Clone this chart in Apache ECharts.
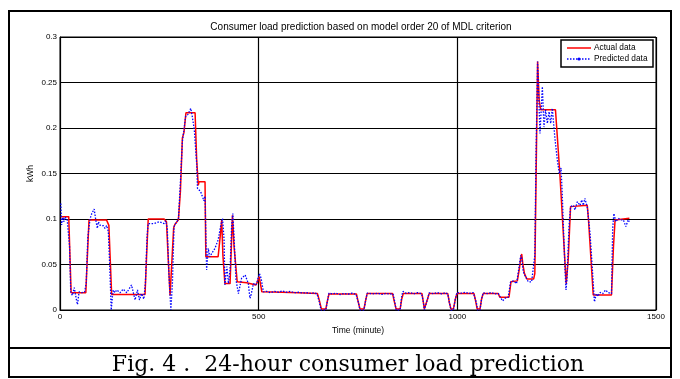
<!DOCTYPE html>
<html>
<head>
<meta charset="utf-8">
<script src="https://cdn.jsdelivr.net/npm/echarts@6/dist/echarts.min.js"></script>
<style>
html,body{margin:0;padding:0;background:#fff;}
#chart{width:680px;height:379px;}
</style>
</head>
<body>
<div id="chart"></div>
<script>
// ---- data ----
var xTicks = [0, 500, 1000, 1500];
var yTicks = [0, 0.05, 0.1, 0.15, 0.2, 0.25, 0.3];
var seriesNames = ['Actual data', 'Predicted data'];

var actualTime = [2,22,25,28,65,68,73,117,123,126,130,214,218,222,262,268,272,277,282,286,289,298,303,308,312,317,340,344,348,350,365,367,398,403,407,410,415,428,434,438,446,470,493,496,501,504,508,
  560,600,648,653,658,669,673,677,746,750,755,765,769,773,837,841,846,856,860,864,911,914,917,921,925,929,976,980,984,990,995,999,1042,1046,1050,1057,1061,1065,
  1103,1107,1130,1135,1151,1156,1160,1162,1165,1169,1175,1192,1195,1202,1206,1210,1247,1258,1274,1279,1285,1327,1330,1342,1388,1393,1397,1433];
var actualKWh = [0.1026,0.1026,0.06,0.019,0.019,0.05,0.099,0.099,0.093,0.06,0.017,0.017,0.06,0.1,0.1,0.097,0.06,0.016,0.016,0.09,0.094,0.099,0.13,0.189,0.195,0.2168,0.2168,0.165,0.137,0.141,0.141,0.0586,0.0586,0.08,0.099,0.06,0.029,0.029,0.104,0.07,0.031,0.030,0.0275,0.03,0.0366,0.03,0.020,
  0.0195,0.019,0.018,0.01,0.001,0.001,0.01,0.0176,0.0176,0.01,0.001,0.001,0.01,0.018,0.018,0.01,0.001,0.001,0.012,0.018,0.018,0.01,0.001,0.001,0.012,0.018,0.018,0.008,0.001,0.001,0.012,0.018,0.018,0.01,0.001,0.001,0.012,0.018,
  0.018,0.014,0.014,0.031,0.032,0.045,0.058,0.0615,0.05,0.04,0.034,0.034,0.04,0.273,0.23,0.22,0.22,0.15,0.029,0.055,0.1136,0.115,0.1,0.0165,0.0165,0.07,0.099,0.1007];

var predTime = [2,4,7,10,12,18,21,24,27,31,36,41,44,48,55,62,66,70,75.5,80,86,90,94,96.5,101,105,109,113,117.5,121.6,125,129,132,134,138,143,151,159,168,180,189,195,200,205,211,215,219,222,226,236,250,262,266,270,274,279,283,287,291,298,303,308,312,316,322,329,333,338,344,346,350,354,360,362,365,369,373,377,382,390,398,404,409,413,415,420,424,428,432,435,438,443,449,457,466,474,478,480,487,493,496,502,506,512,
  520,530,540,550,560,570,580,590,600,610,620,630,640,647,652,657,669,673,677,685,695,705,715,725,735,745,750,755,765,769,773,782,792,800,810,820,830,838,842,846,856,860,863,870,880,890,900,910,914,917,921,925,929,940,950,960,970,976,980,984,990,995,999,1010,1020,1030,1040,1044,1048,1051,1057,1061,1065,1075,1085,1095,
  1103,1107,1114,1120,1128,1134,1141,1149,1156,1159.5,1162,1166,1170,1174.5,1178.6,1187,1191,1195,1198,1202,1208,1214,1218,1222,1226.5,1231,1235,1239,1241.5,1246,1251.6,1256.7,1261,1264,1267,1271,1273.5,1276,1281,1285,1292,1296,1302,1309,1313,1317,1321,1327,1334,1340,1345,1350,1354,1359,1366,1373,1380,1388,1391,1394,1399,1405,1411,1418,1424,1430,1433];
var predKWh = [0.117,0.0934,0.102,0.097,0.102,0.1,0.099,0.07,0.02,0.016,0.0245,0.012,0.006,0.02,0.019,0.02,0.03,0.08,0.1,0.106,0.111,0.099,0.0897,0.097,0.093,0.095,0.0926,0.0897,0.093,0.086,0.05,0.0,0.015,0.022,0.019,0.022,0.019,0.023,0.019,0.0275,0.011,0.022,0.011,0.018,0.012,0.03,0.08,0.095,0.097,0.095,0.097,0.095,0.098,0.09,0.04,0.0,0.03,0.0916,0.095,0.0996,0.14,0.185,0.198,0.2125,0.215,0.2216,0.2125,0.198,0.161,0.1337,0.135,0.13,0.1227,0.12,0.125,0.044,0.0678,0.0586,0.0623,0.0678,0.077,0.0916,0.1007,0.077,0.0275,0.0476,0.029,0.044,0.0934,0.106,0.08,0.033,0.018,0.0348,0.0385,0.029,0.0128,0.015,0.029,0.0275,0.031,0.04,0.035,0.02,
  0.0205,0.019,0.0205,0.0195,0.021,0.0195,0.0205,0.019,0.0195,0.0188,0.019,0.0182,0.019,0.0175,0.01,0.0,0.0,0.01,0.0185,0.0178,0.0185,0.017,0.0182,0.0175,0.0185,0.0172,0.01,0.0,0.0,0.01,0.0185,0.018,0.0178,0.0185,0.0172,0.0182,0.0175,0.018,0.01,0.0,0.0,0.015,0.0205,0.0185,0.0192,0.0178,0.019,0.0178,0.01,0.0,0.0,0.012,0.0188,0.018,0.0192,0.0178,0.019,0.0175,0.008,0.0,0.0,0.012,0.0192,0.0185,0.0195,0.0182,0.019,0.0175,0.008,0.0,0.0,0.012,0.0188,0.018,0.0192,0.0178,
  0.018,0.016,0.01,0.013,0.014,0.031,0.032,0.029,0.049,0.06,0.057,0.042,0.038,0.04,0.031,0.031,0.033,0.06,0.17,0.273,0.194,0.2454,0.201,0.22,0.205,0.218,0.205,0.2216,0.209,0.187,0.165,0.15,0.156,0.128,0.0916,0.044,0.022,0.035,0.0916,0.1136,0.115,0.11,0.119,0.115,0.121,0.115,0.1227,0.113,0.084,0.044,0.009,0.018,0.015,0.0193,0.018,0.022,0.019,0.018,0.09,0.106,0.097,0.1007,0.099,0.099,0.0916,0.099,0.097];

function zip(a, b) { return a.map(function (t, i) { return [t, b[i]]; }); }

var chart = echarts.init(document.getElementById('chart'), null, {renderer: 'canvas'});
var sans = 'Liberation Sans, Arial, sans-serif';
var legendFont = '8.3px "Liberation Sans", Arial, sans-serif';
var option = {
  backgroundColor: '#fff',
  animation: false,
  title: {
    text: 'Consumer load prediction based on model order 20 of MDL criterion',
    left: 356, top: 17, textAlign: 'center',
    textStyle: {fontFamily: sans, fontSize: 10, fontWeight: 'normal', color: '#000'}
  },
  grid: {left: 60, right: 24, top: 37, bottom: 69, show: true, borderColor: '#000', borderWidth: 1, backgroundColor: '#fff'},
  xAxis: {
    type: 'value', min: xTicks[0], max: xTicks[xTicks.length - 1], interval: 500,
    name: 'Time (minute)', nameLocation: 'middle', nameGap: 15,
    nameTextStyle: {fontFamily: sans, fontSize: 8.5, color: '#000'},
    axisLine: {show: true, lineStyle: {color: '#000', width: 1}},
    axisTick: {show: true, inside: true, length: 4, lineStyle: {color: '#000'}},
    axisLabel: {fontFamily: sans, fontSize: 8, color: '#000', margin: 3,
      formatter: function (v) { return String(v); }},
    splitLine: {show: true, lineStyle: {color: '#000', width: 1.2}}
  },
  yAxis: {
    type: 'value', min: yTicks[0], max: yTicks[yTicks.length - 1], interval: 0.05,
    name: 'kWh', nameLocation: 'middle', nameGap: 25, nameMoveOverlap: false,
    nameTextStyle: {fontFamily: sans, fontSize: 8.5, color: '#000'},
    axisLine: {show: true, lineStyle: {color: '#000', width: 1}},
    axisTick: {show: true, inside: true, length: 4, lineStyle: {color: '#000'}},
    axisLabel: {fontFamily: sans, fontSize: 8, color: '#000', margin: 3,
      formatter: function (v) { return String(+v.toFixed(2)); }},
    splitLine: {show: true, lineStyle: {color: '#000', width: 1.2}}
  },
  series: [
    {name: seriesNames[0], type: 'line', data: zip(actualTime, actualKWh), symbol: 'none', z: 3,
      lineStyle: {color: '#ff0000', width: 1.5}, itemStyle: {color: '#ff0000'}},
    {name: seriesNames[1], type: 'line', data: zip(predTime, predKWh), symbol: 'none', z: 4,
      lineStyle: {color: '#0000ff', width: 1.3, type: [1.5, 1.5]}, itemStyle: {color: '#0000ff'}}
  ],
  graphic: [
    // legend box
    {type: 'rect', shape: {x: 561, y: 40, width: 92, height: 27}, style: {fill: '#fff', stroke: '#000', lineWidth: 1.5}, z: 50},
    {type: 'line', shape: {x1: 567, y1: 48, x2: 591, y2: 48}, style: {stroke: '#ff0000', lineWidth: 1.5}, z: 51},
    {type: 'text', x: 594, y: 48, z: 51, style: {text: seriesNames[0], font: legendFont, fill: '#000', verticalAlign: 'middle'}},
    {type: 'line', shape: {x1: 567, y1: 59, x2: 591, y2: 59}, style: {stroke: '#0000ff', lineWidth: 1.3, lineDash: [1.5, 1.5]}, z: 51},
    {type: 'circle', shape: {cx: 579, cy: 59, r: 1.6}, style: {fill: '#0000ff'}, z: 52},
    {type: 'text', x: 594, y: 59, z: 51, style: {text: seriesNames[1], font: legendFont, fill: '#000', verticalAlign: 'middle'}},
    // outer frame and caption
    {type: 'rect', shape: {x: 9, y: 11, width: 662, height: 366}, style: {fill: null, stroke: '#000', lineWidth: 2}, z: 100},
    {type: 'line', shape: {x1: 9, y1: 348, x2: 671, y2: 348}, style: {stroke: '#000', lineWidth: 2}, z: 100},
    {type: 'text', x: 348, y: 365, z: 100,
      style: {text: 'Fig. 4 .  24-hour consumer load prediction', font: '22px "DejaVu Serif", serif', fill: '#000', align: 'center', verticalAlign: 'middle'}}
  ]
};
chart.setOption(option);
</script>
</body>
</html>
